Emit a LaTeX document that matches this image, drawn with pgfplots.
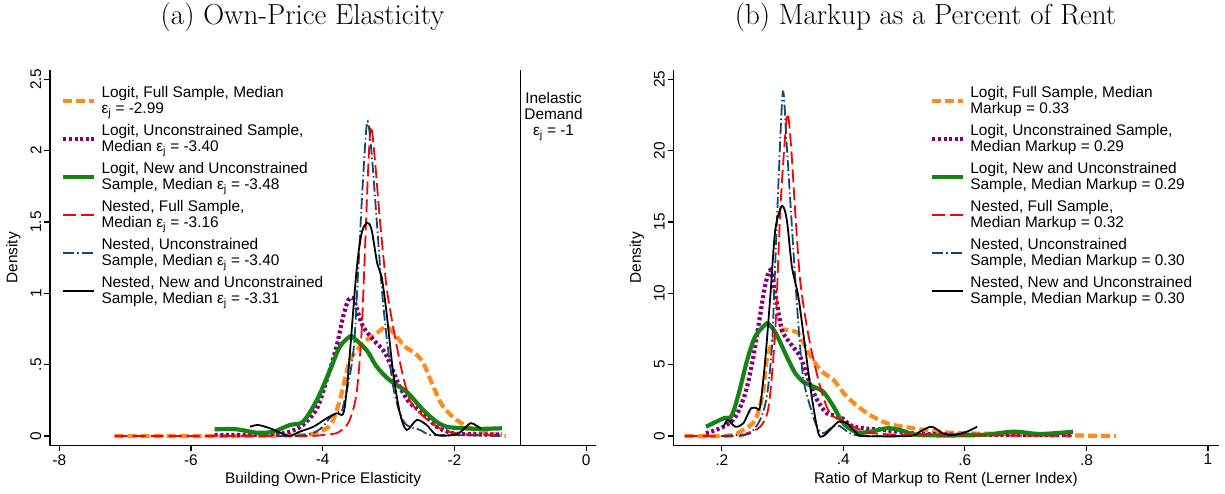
\documentclass[border=0pt]{standalone}
\usepackage{fontspec}
\usepackage{pgfplots}
\pgfplotsset{compat=1.18}
\newfontfamily\plotfont{Liberation Sans}
\newcommand\pfont{\plotfont\fontsize{15.4}{16}\selectfont}
\definecolor{sorange}{RGB}{255,140,30}
\definecolor{spurple}{RGB}{128,0,128}
\definecolor{sgreen}{RGB}{22,131,22}
\definecolor{sred}{RGB}{255,0,0}
\definecolor{snavy}{RGB}{26,71,111}

\pgfplotsset{
  stata/.style={
    scale only axis, height=375.7pt,
    axis x line*=bottom, axis y line*=left,
    axis line style={line width=1.2pt},
    tick align=outside, major tick length=5.5pt,
    tick style={line width=1.2pt, black},
    every tick label/.append style={font=\pfont},
    label style={font=\pfont},
    yticklabel style={rotate=90, anchor=south, inner sep=3pt},
    xticklabel style={anchor=north, inner sep=3pt},
    ylabel style={at={(axis description cs:-0.067,0.5)}, anchor=center},
    xlabel style={at={(axis description cs:0.5,-0.0894)}, anchor=center},
    legend style={draw=none, fill=none, inner sep=0pt, outer sep=0pt,
      font=\pfont, row sep=5.4pt, cells={anchor=west, align=left},
      anchor=north west},
    legend image code/.code={\draw[#1] (0pt,0pt) -- (30.6pt,0pt); \path (34pt,0pt);},
  },
  lfull/.style={sorange, line width=4.2pt, dash pattern=on 9pt off 4pt, smooth, tension=0.5},
  luncon/.style={spurple, line width=4.2pt, dash pattern=on 3pt off 2.6pt, smooth, tension=0.5},
  lnew/.style={sgreen, line width=4.2pt, solid, smooth, tension=0.5},
  nfull/.style={sred, line width=1.8pt, dash pattern=on 13pt off 5pt, smooth, tension=0.5},
  nuncon/.style={snavy, line width=1.8pt, dash pattern=on 11pt off 3pt on 1.5pt off 3pt, smooth, tension=0.5},
  nnew/.style={black, line width=1.8pt, solid, smooth, tension=0.5},
}

\begin{document}
\begin{tikzpicture}
\path[use as bounding box] (0pt,0pt) rectangle (1225pt,493pt);

\node[font=\fontsize{29}{34}\selectfont] at (302.6pt,475.5pt) {(a) Own-Price Elasticity};
\node[font=\fontsize{29}{34}\selectfont] at (925.5pt,475.5pt) {(b) Markup as a Percent of Rent};

% (a) elasticity
\begin{axis}[stata,
  at={(50pt,47.3pt)}, anchor=south west, width=546pt,
  xmin=-8.14, xmax=0.15, ymin=-0.068, ymax=2.565,
  xtick={-8,-6,-4,-2,0}, xticklabels={-8,-6,-4,-2,0},
  ytick={0,0.5,1,1.5,2,2.5}, yticklabels={0,.5,1,1.5,2,2.5},
  xlabel={Building Own-Price Elasticity}, ylabel={Density},
  legend style={at={(axis description cs:0.0207,0.9614)}},
]
\addplot[lfull] coordinates {
(-7.16,0) (-6.5,0) (-5.5,0) (-4.8,0.002) (-4.4,0.005) (-4.19,0.01) (-3.99,0.042)
(-3.865,0.089) (-3.74,0.25) (-3.64,0.44) (-3.59,0.53) (-3.485,0.60) (-3.33,0.673)
(-3.18,0.72) (-3.03,0.766) (-2.877,0.696) (-2.75,0.626) (-2.6,0.58) (-2.47,0.51)
(-2.32,0.345) (-2.17,0.205) (-1.965,0.112) (-1.75,0.054) (-1.51,0.02) (-1.22,0.0)};
\addlegendentry{Logit, Full Sample, Median\\ε\textsubscript{j} = -2.99}
\addplot[luncon] coordinates {
(-5.64,0.007) (-5.2,0.008) (-4.70,0.014) (-4.5,0.03) (-4.30,0.077) (-4.09,0.19)
(-3.94,0.39) (-3.79,0.626) (-3.69,0.836) (-3.61,0.953) (-3.536,0.965) (-3.46,0.86)
(-3.385,0.766) (-3.23,0.673) (-3.08,0.60) (-2.98,0.51) (-2.83,0.345) (-2.675,0.23)
(-2.47,0.16) (-2.27,0.065) (-2.017,0.019) (-1.7,0.012) (-1.28,0.01)};
\addlegendentry{Logit, Unconstrained Sample,\\Median ε\textsubscript{j} = -3.40}
\addplot[lnew] coordinates {
(-5.64,0.047) (-5.31,0.047) (-5.0,0.023) (-4.75,0.03) (-4.5,0.077) (-4.30,0.1)
(-4.09,0.25) (-3.89,0.46) (-3.74,0.626) (-3.59,0.696) (-3.536,0.69) (-3.33,0.60)
(-3.18,0.486) (-2.98,0.39) (-2.725,0.31) (-2.47,0.18) (-2.27,0.10) (-2.117,0.065)
(-1.9,0.055) (-1.6,0.05) (-1.28,0.054)};
\addlegendentry{Logit, New and Unconstrained\\Sample, Median ε\textsubscript{j} = -3.48}
\addplot[nfull] coordinates {
(-7.16,0) (-5,0) (-4.19,0.0) (-3.95,0.01) (-3.79,0.02) (-3.69,0.05) (-3.59,0.112)
(-3.485,0.30) (-3.41,0.72) (-3.36,1.28) (-3.31,1.864) (-3.267,2.172) (-3.207,1.934)
(-3.13,1.51) (-3.03,1.046) (-2.93,0.766) (-2.80,0.46) (-2.675,0.25) (-2.52,0.16)
(-2.37,0.10) (-2.17,0.042) (-1.9,0.015) (-1.3,0.005)};
\addlegendentry{Nested, Full Sample,\\Median ε\textsubscript{j} = -3.16}
\addplot[nuncon] coordinates {
(-4.7,0.0) (-4.3,0.005) (-4.1,0.03) (-3.99,0.07) (-3.865,0.14) (-3.75,0.17)
(-3.69,0.205) (-3.536,0.58) (-3.46,1.163) (-3.394,1.747) (-3.324,2.203) (-3.257,1.981)
(-3.18,1.514) (-3.105,1.046) (-3.03,0.696) (-2.929,0.345) (-2.827,0.16) (-2.725,0.077)
(-2.52,0.042) (-2.37,0.007) (-2.1,0.007) (-1.8,0.005) (-1.3,0.0)};
\addlegendentry{Nested, Unconstrained\\Sample, Median ε\textsubscript{j} = -3.40}
\addplot[nnew] coordinates {
(-5.106,0.065) (-4.98,0.077) (-4.80,0.054) (-4.625,0.019) (-4.5,0.0) (-4.35,0.03)
(-4.14,0.065) (-3.94,0.124) (-3.79,0.159) (-3.69,0.154) (-3.64,0.3) (-3.587,0.58)
(-3.485,1.163) (-3.409,1.42) (-3.324,1.495) (-3.257,1.444) (-3.172,1.21) (-3.105,1.116)
(-3.029,0.86) (-2.929,0.44) (-2.827,0.16) (-2.725,0.042) (-2.573,0.112) (-2.421,0.077)
(-2.27,0.007) (-2.017,0.007) (-1.9,0.03) (-1.75,0.09) (-1.6,0.05)};
\addlegendentry{Nested, New and Unconstrained\\Sample, Median ε\textsubscript{j} = -3.31}
\draw[black, line width=1.3pt] (axis cs:-1,-0.068) -- (axis cs:-1,2.565);
\node[font=\pfont, align=center] at (axis cs:-0.495,2.238) {Inelastic\\Demand\\ε\textsubscript{j} = -1};
\end{axis}

% (b) markup
\begin{axis}[stata,
  at={(673.4pt,47.3pt)}, anchor=south west, width=545.2pt,
  xmin=0.1204, xmax=1.0175, ymin=-0.68, ymax=25.65,
  xtick={0.2,0.4,0.6,0.8,1}, xticklabels={.2,.4,.6,.8,1},
  ytick={0,5,10,15,20,25}, yticklabels={0,5,10,15,20,25},
  xlabel={Ratio of Markup to Rent (Lerner Index)}, ylabel={Density},
  legend style={at={(axis description cs:0.471,0.9614)}},
]
\addplot[lfull] coordinates {
(0.139,0) (0.21,0.02) (0.235,0.42) (0.255,1.12) (0.2676,2.99) (0.274,5.33) (0.287,6.96)
(0.30,7.43) (0.307,7.43) (0.326,7.2) (0.34,6.03) (0.362,4.63) (0.384,3.92) (0.406,2.75)
(0.439,1.59) (0.472,0.89) (0.506,0.6) (0.557,0.30) (0.596,0.19) (0.66,0.14) (0.7245,0.07)
(0.849,0)};
\addlegendentry{Logit, Full Sample, Median\\Markup = 0.33}
\addplot[luncon] coordinates {
(0.174,0.19) (0.203,0.65) (0.2225,1.35) (0.2387,2.99) (0.251,5.33) (0.261,7.9) (0.271,10.46)
(0.2798,11.63) (0.289,9.76) (0.299,7.43) (0.3126,6.5) (0.329,5.56) (0.343,3.92) (0.357,2.52)
(0.373,1.59) (0.395,1.35) (0.417,0.65) (0.467,0.42) (0.5315,0.14) (0.66,0.07) (0.776,0.07)};
\addlegendentry{Logit, Unconstrained Sample,\\Median Markup = 0.29}
\addplot[lnew] coordinates {
(0.174,0.65) (0.203,1.24) (0.216,1.4) (0.228,2.99) (0.2419,5.33) (0.2548,6.96) (0.271,7.78)
(0.277,7.85) (0.289,7.2) (0.307,5.56) (0.321,4.39) (0.3345,3.8) (0.351,3.45) (0.367,3.1)
(0.384,2.05) (0.40,0.89) (0.422,0.25) (0.444,0.30) (0.4716,0.54) (0.4935,0.42) (0.526,0.07)
(0.625,0.07) (0.68,0.3) (0.724,0.14) (0.778,0.3)};
\addlegendentry{Logit, New and Unconstrained\\Sample, Median Markup = 0.29}
\addplot[nfull] coordinates {
(0.139,0) (0.228,0.0) (0.241,0.19) (0.263,0.65) (0.277,2.05) (0.288,7.43) (0.296,15.6)
(0.303,20.3) (0.3083,22.6) (0.314,20.3) (0.321,15.6) (0.329,10.9) (0.34,7.66) (0.351,5.33)
(0.365,2.99) (0.378,1.59) (0.395,1.12) (0.417,0.65) (0.449,0.19) (0.55,0.05) (0.776,0.02)};
\addlegendentry{Nested, Full Sample,\\Median Markup = 0.32}
\addplot[nuncon] coordinates {
(0.2,0.0) (0.235,0.1) (0.247,0.19) (0.263,1.12) (0.274,2.75) (0.2825,6.26) (0.288,12.1)
(0.2934,17.9) (0.3006,24.13) (0.307,20.3) (0.314,15.6) (0.321,10.9) (0.328,6.73)
(0.3345,3.92) (0.3455,2.05) (0.3566,0.65) (0.367,0.19) (0.389,0.77) (0.411,0.19)
(0.433,0.0) (0.5,0.0)};
\addlegendentry{Nested, Unconstrained\\Sample, Median Markup = 0.30}
\addplot[nnew] coordinates {
(0.203,0.65) (0.2097,1.12) (0.2225,0.65) (0.2354,0.89) (0.248,1.94) (0.2576,1.94)
(0.263,2.05) (0.271,5.09) (0.2798,9.76) (0.288,14.43) (0.299,16.12) (0.307,15.14)
(0.3154,11.87) (0.326,9.76) (0.337,6.26) (0.348,2.75) (0.359,0.19) (0.367,0.0)
(0.378,0.42) (0.392,1.0) (0.406,0.89) (0.422,0.19) (0.433,0.0) (0.51,0.0) (0.526,0.3)
(0.545,0.65) (0.564,0.19) (0.581,0.07) (0.603,0.3) (0.62,0.65)};
\addlegendentry{Nested, New and Unconstrained\\Sample, Median Markup = 0.30}
\end{axis}
\end{tikzpicture}
\end{document}
